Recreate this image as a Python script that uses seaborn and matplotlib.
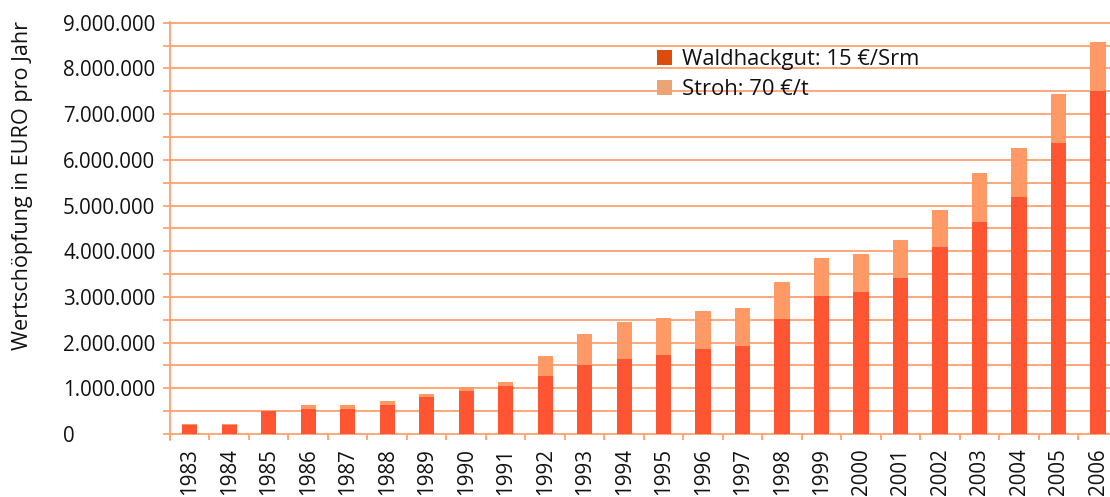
import matplotlib
matplotlib.use("Agg")
import matplotlib.pyplot as plt
import seaborn as sns
import numpy as np
from matplotlib.ticker import FixedLocator, FuncFormatter
from matplotlib.patches import Patch

# ---- data ----
years = [str(y) for y in range(1983, 2007)]
waldhackgut = [200000, 200000, 500000, 550000, 550000, 630000, 800000, 950000,
               1050000, 1270000, 1500000, 1640000, 1720000, 1870000, 1930000,
               2510000, 3020000, 3110000, 3420000, 4090000, 4640000, 5190000,
               6370000, 7510000]
stroh = [20000, 20000, 0, 85000, 90000, 90000, 80000, 86000, 90000, 440000,
         680000, 810000, 820000, 820000, 830000, 820000, 830000, 830000,
         830000, 810000, 1070000, 1060000, 1070000, 1060000]
legend_labels = ["Waldhackgut: 15 €/Srm", "Stroh: 70 €/t"]
y_label = "Wertschöpfung in EURO pro Jahr"

total = [w + s for w, s in zip(waldhackgut, stroh)]

# ---- style ----
sns.set_style("white")
plt.rcParams['font.family'] = ['Open Sans', 'DejaVu Sans']

ORANGE_GRID = '#FFA070'
WALD = '#FF5533'
STROH = '#FF9966'
LEG_WALD = '#DC4C0C'
LEG_STROH = '#EBA475'
TXT = '#111111'

W, H = 1110, 497
fig = plt.figure(figsize=(W / 100, H / 100), dpi=100)
ax_left, ax_right = 170 / W, 1.0
ax_bottom = 1 - 440 / H
ax_top = 1 - 22.0 / H
ax = fig.add_axes([ax_left, ax_bottom, ax_right - ax_left, ax_top - ax_bottom])

sns.barplot(x=years, y=total, color=STROH, width=0.39, saturation=1,
            ax=ax, zorder=3)
sns.barplot(x=years, y=waldhackgut, color=WALD, width=0.39, saturation=1,
            ax=ax, zorder=4)
for p in ax.patches:
    p.set_edgecolor('none')

ax.set_xlim(-0.5, 23.3)
ax.set_ylim(-130000, 9015000)

# y axis
ax.yaxis.set_major_locator(FixedLocator(np.arange(0, 9000001, 1000000)))
ax.yaxis.set_minor_locator(FixedLocator(np.arange(500000, 9000000, 1000000)))
ax.yaxis.set_major_formatter(FuncFormatter(lambda v, p: f"{v:,.0f}".replace(',', '.')))
ax.tick_params(axis='y', which='both', direction='out', length=5, width=1.3,
               color=ORANGE_GRID, left=True)
ax.tick_params(axis='y', which='major', labelsize=14.8, labelcolor=TXT, pad=72)
for lab in ax.get_yticklabels():
    lab.set_horizontalalignment('left')

ax.yaxis.grid(True, which='both', color=ORANGE_GRID, linewidth=1.3, zorder=1)
ax.set_axisbelow(True)

# x axis
ax.xaxis.set_minor_locator(FixedLocator(np.arange(-0.5, 23, 1.0)))
ax.tick_params(axis='x', which='minor', direction='in', length=4.3, width=1.3,
               color=ORANGE_GRID, bottom=True)
ax.tick_params(axis='x', which='major', length=0, pad=6, labelsize=14.8,
               labelcolor=TXT, labelrotation=90)
for lab in ax.get_xticklabels():
    lab.set_verticalalignment('top')

for s in ['top', 'right', 'bottom']:
    ax.spines[s].set_visible(False)
ax.spines['left'].set_color(ORANGE_GRID)
ax.spines['left'].set_linewidth(1.3)

ax.set_xlabel('')
ax.set_ylabel('')
fig.text(23 / W, 1 - 186 / H, y_label, rotation=90, ha='center', va='center',
         fontsize=15.6, color=TXT)

handles = [Patch(facecolor=LEG_WALD, edgecolor='none'),
           Patch(facecolor=LEG_STROH, edgecolor='none')]
leg = ax.legend(handles, legend_labels, loc='upper left',
                bbox_to_anchor=(657 / W, 1 - 49 / H), bbox_transform=fig.transFigure,
                frameon=False, fontsize=15.8, handlelength=0.7, handleheight=0.7,
                handletextpad=0.45, labelspacing=0.42, borderpad=0, borderaxespad=0)
for t in leg.get_texts():
    t.set_color(TXT)

fig.savefig('out.png', dpi=100)
